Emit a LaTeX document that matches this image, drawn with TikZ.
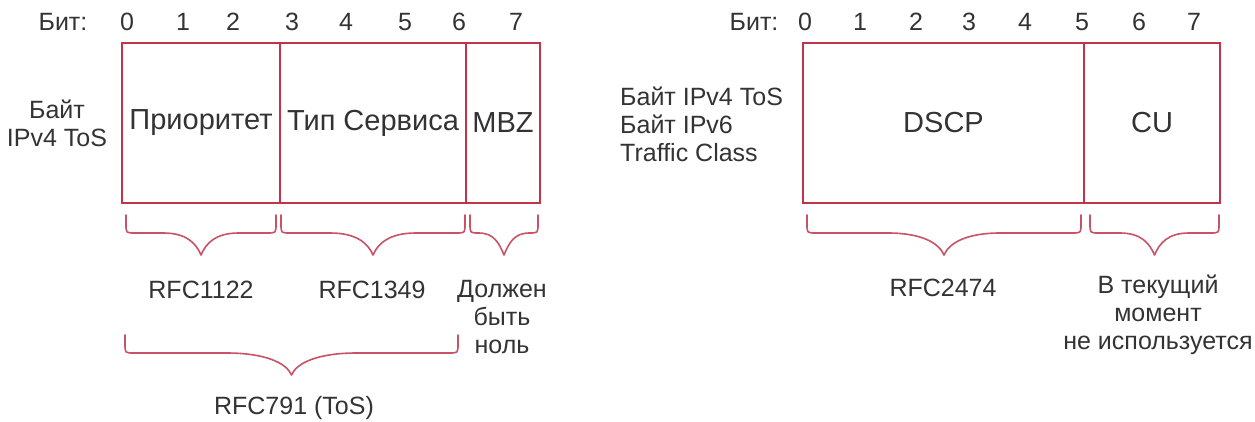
\documentclass[tikz,border=0pt]{standalone}
\usepackage{fontspec}
\setmainfont{Liberation Sans}
\definecolor{boxred}{HTML}{C0334B}
\definecolor{bracered}{HTML}{C95366}
\definecolor{txt}{HTML}{333333}
\newcommand\mybrace[5]{%
  \draw[bracestyle] (#1,#3) -- (#1,#4-9) .. controls (#1,#4) .. (#1+9,#4)
    -- ({(#1+#2)/2-(0.15*(#2-#1)+15)},#4)
    .. controls ({(#1+#2)/2-0.4*(0.15*(#2-#1)+15)},#4) and ({(#1+#2)/2-5},#5-12) .. ({(#1+#2)/2},#5)
    .. controls ({(#1+#2)/2+5},#5-12) and ({(#1+#2)/2+0.4*(0.15*(#2-#1)+15)},#4) .. ({(#1+#2)/2+(0.15*(#2-#1)+15)},#4)
    -- (#2-9,#4) .. controls (#2,#4) .. (#2,#4-9) -- (#2,#3);}
\begin{document}
\begin{tikzpicture}[x=1pt,y=-1pt,
  lbl/.style={text=txt,font=\fontsize{25}{28}\selectfont,inner sep=0pt,align=center},
  fieldbox/.style={draw=boxred,line width=2pt,minimum height=160pt,inner sep=0pt,text=txt,font=\fontsize{29}{32}\selectfont},
  bracestyle/.style={draw=bracered,line width=1.6pt,line cap=round,line join=round}]
\useasboundingbox[fill=white] (0,0) rectangle (1255,421);
% left diagram
\node[lbl] (bitL) at (63,22) {Бит:};
\foreach \x/\d in {127/0,183/1,233/2,292/3,346/4,405/5,459/6,516/7}
  \node[lbl] (bl\d) at (\x,22) {\d};
\node[lbl] (sideL) at (57,123) {Байт\\IPv4 ToS};
\node[fieldbox,minimum width=158pt] (prio) at (201,123) {Приоритет};
\node[fieldbox,minimum width=186pt] (tos) at (373,123) {Тип Сервиса};
\node[fieldbox,minimum width=74pt] (mbz) at (503,123) {MBZ};
\mybrace{126}{276}{215}{233}{255}
\mybrace{281}{465}{215}{233}{255}
\mybrace{470}{538}{215}{233}{255}
\node[lbl] (r1122) at (201,290) {RFC1122};
\node[lbl] (r1349) at (372,290) {RFC1349};
\node[lbl] (must) at (502,317) {Должен\\быть\\ноль};
\mybrace{125}{458}{335}{353}{375}
\node[lbl] (r791) at (294,408) {RFC791 (ToS)};
% right diagram
\node[lbl] (bitR) at (754,22) {Бит:};
\foreach \x/\d in {805/0,860/1,916/2,969/3,1025/4,1082/5,1139/6,1194/7}
  \node[lbl] (br\d) at (\x,22) {\d};
\node[lbl,align=left,anchor=west] (sideR) at (620,124) {Байт IPv4 ToS\\Байт IPv6\\Traffic Class};
\node[fieldbox,minimum width=281pt] (dscp) at (943.5,123) {DSCP};
\node[fieldbox,minimum width=136pt] (cu) at (1152,123) {CU};
\mybrace{807}{1081}{215}{233}{255}
\mybrace{1090}{1219}{215}{233}{255}
\node[lbl] (r2474) at (943,288) {RFC2474};
\node[lbl] (unused) at (1158,315) {В текущий\\момент\\не используется};
\end{tikzpicture}
\end{document}
